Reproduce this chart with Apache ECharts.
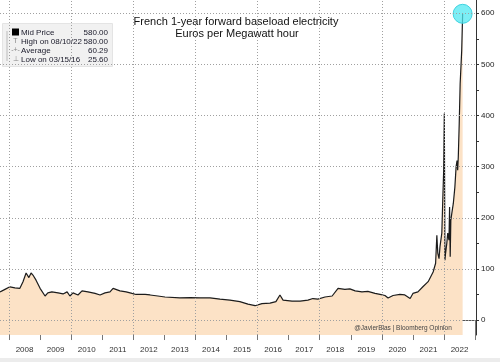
<!DOCTYPE html>
<html>
<head>
<meta charset="utf-8">
<script src="https://cdn.jsdelivr.net/npm/echarts@6/dist/echarts.min.js"></script>
<style>
html,body{margin:0;padding:0;background:#fff;}
#chart{width:500px;height:362px;}
</style>
</head>
<body>
<div id="chart"></div>
<script>
// ---- data (decimal years, EUR/MWh) ----
var years = [2007.71,2007.87,2008.03,2008.19,2008.35,2008.45,2008.55,2008.64,2008.71,2008.77,2008.87,2009.00,2009.16,2009.25,2009.38,2009.58,2009.74,2009.87,2009.96,2010.06,2010.22,2010.35,2010.54,2010.77,2010.93,2011.09,2011.25,2011.35,2011.57,2011.77,2011.96,2012.09,2012.38,2012.54,2012.79,2013.02,2013.50,2013.83,2014.15,2014.47,2014.79,2015.11,2015.43,2015.69,2015.92,2015.98,2016.14,2016.40,2016.59,2016.72,2016.82,2016.88,2017.11,2017.37,2017.62,2017.78,2017.94,2018.17,2018.40,2018.59,2018.65,2018.81,2018.97,2019.14,2019.36,2019.55,2019.78,2019.94,2020.10,2020.20,2020.36,2020.58,2020.74,2020.91,2021.00,2021.16,2021.32,2021.49,2021.65,2021.73,2021.77,2021.80,2021.84,2021.87,2021.93,2021.96,2021.99,2022.01,2022.03,2022.05,2022.09,2022.12,2022.16,2022.18,2022.20,2022.22,2022.25,2022.30,2022.35,2022.39,2022.42,2022.44,2022.46,2022.49,2022.52,2022.57,2022.60];
var prices = [55,60,65,63,62,75,92,83,92,88,78,62,47,53,55,53,51,55,47,53,49,57,55,52,49,53,55,62,57,55,52,50,50,49,47,45,43.5,44,43.5,43.5,41,39,36,31,28,25.6,32,33,36,49,39,36,37,37,39,42,41,45,47,62,63,60,61,57,55,56,52,50,48,43,48,50,49,42,52,55,65,75,94,111,166,131,120,143,170,234,293,404,117,130,150,170,156,221,124,195,208,228,260,300,312,293,319,384,462,527,599];

var yearTicks = [2008,2009,2010,2011,2012,2013,2014,2015,2016,2017,2018,2019,2020,2021,2022,2023];
var yearLabels = [2008,2009,2010,2011,2012,2013,2014,2015,2016,2017,2018,2019,2020,2021,2022];
var gridYears = [2008,2010,2012,2014,2016,2018,2020,2022];
var priceLabels = [0,100,200,300,400,500,600];
var priceTicks = [0,50,100,150,200,250,300,350,400,450,500,550,600];

var legendNames = ['Mid Price','High on 08/10/22','Average','Low on 03/15/16'];
var legendValues = ['580.00','580.00','60.29','25.60'];
var titleLines = ['French 1-year forward baseload electricity','Euros per Megawatt hour'];
var credit = '@JavierBlas | Bloomberg Opinion';

var seriesData = years.map(function(y,i){return [y, prices[i]];});
var last = seriesData[seriesData.length-1];

var FONT = 'Liberation Sans';
var chart = echarts.init(document.getElementById('chart'), null, {renderer:'canvas'});

var legendGraphics = [
  {type:'rect', left:2, top:23, shape:{width:110, height:43}, style:{fill:'#f1f1f1', stroke:'#e4e4e4'}, z:10},
  {type:'line', shape:{x1:7,y1:31,x2:7,y2:61}, style:{stroke:'#bbb', lineWidth:1}, z:11},
  {type:'rect', shape:{x:12,y:28.5,width:7,height:7}, style:{fill:'#000'}, z:11},
  {type:'text', x:15.5, y:41.5, style:{text:'T', fill:'#888', font:'7px '+FONT, align:'center', verticalAlign:'middle'}, z:11},
  {type:'text', x:15.5, y:50.5, style:{text:'-+-', fill:'#888', font:'7px '+FONT, align:'center', verticalAlign:'middle'}, z:11},
  {type:'text', x:15.5, y:59.5, style:{text:'\u22A5', fill:'#888', font:'7px '+FONT, align:'center', verticalAlign:'middle'}, z:11}
];
var rowsY = [32.3, 41.5, 50.6, 59.8];
legendNames.forEach(function(n,i){
  legendGraphics.push({type:'text', x:21, y:rowsY[i], style:{text:n, fill:'#1a1a2a', font:'8px '+FONT, align:'left', verticalAlign:'middle'}, z:11});
  legendGraphics.push({type:'text', x:108, y:rowsY[i], style:{text:legendValues[i], fill:'#1a1a2a', font:'8px '+FONT, align:'right', verticalAlign:'middle'}, z:11});
});

var option = {
  animation:false,
  backgroundColor:'#fff',
  grid:{left:0, right:24, top:0, bottom:27, containLabel:false},
  xAxis:{
    type:'value', min:2007.71, max:2023.03,
    axisLine:{show:true, lineStyle:{color:'#555', width:1}},
    axisTick:{show:true, customValues:yearTicks, length:20, lineStyle:{color:'#777'}},
    axisLabel:{show:true, customValues:yearLabels.map(function(y){return y+0.5;}), formatter:function(v){return String(Math.floor(v));}, fontSize:8, fontFamily:FONT, color:'#333', margin:11},
    splitLine:{show:false}
  },
  yAxis:{
    type:'value', position:'right', min:-29.3, max:626,
    axisLine:{show:true, lineStyle:{color:'#333', width:1}},
    axisTick:{show:true, customValues:priceTicks, length:3, lineStyle:{color:'#333'}},
    axisLabel:{show:true, customValues:priceLabels, fontSize:8, fontFamily:FONT, color:'#222', margin:5},
    splitLine:{show:false}
  },
  series:[{
    type:'line',
    z:2,
    data:seriesData,
    showSymbol:false,
    symbol:'none',
    lineStyle:{color:'#1c1c1c', width:1.2},
    areaStyle:{color:'#fce2c6', origin:'start', opacity:1},
    markPoint:{
      symbol:'circle', symbolSize:19,
      itemStyle:{color:'rgba(80,232,242,0.75)', borderColor:'#3fd3e0', borderWidth:1},
      label:{show:false},
      data:[{coord:last}]
    }
  },{
    type:'line',
    z:10,
    data:[],
    symbol:'none',
    markLine:{
      z:10,
      silent:true, symbol:['none','none'], label:{show:false},
      lineStyle:{color:'#a0a0a0', type:[1,2], width:1},
      data: priceLabels.map(function(v){return {yAxis:v};}).concat(gridYears.map(function(v){return {xAxis:v};}))
    }
  }],
  graphic:[
    {type:'text', x:236, y:21.5, style:{text:titleLines[0], fill:'#111', font:'11px '+FONT, align:'center', verticalAlign:'middle'}, z:12},
    {type:'text', x:237, y:33.5, style:{text:titleLines[1], fill:'#111', font:'11px '+FONT, align:'center', verticalAlign:'middle'}, z:12},
    {type:'text', x:403, y:328, style:{text:credit, fill:'#444', font:'6.5px '+FONT, align:'center', verticalAlign:'middle'}, z:12},
    {type:'rect', shape:{x:0,y:358,width:500,height:4}, style:{fill:'#ececec'}, z:12}
  ].concat(legendGraphics)
};
chart.setOption(option);
</script>
</body>
</html>
